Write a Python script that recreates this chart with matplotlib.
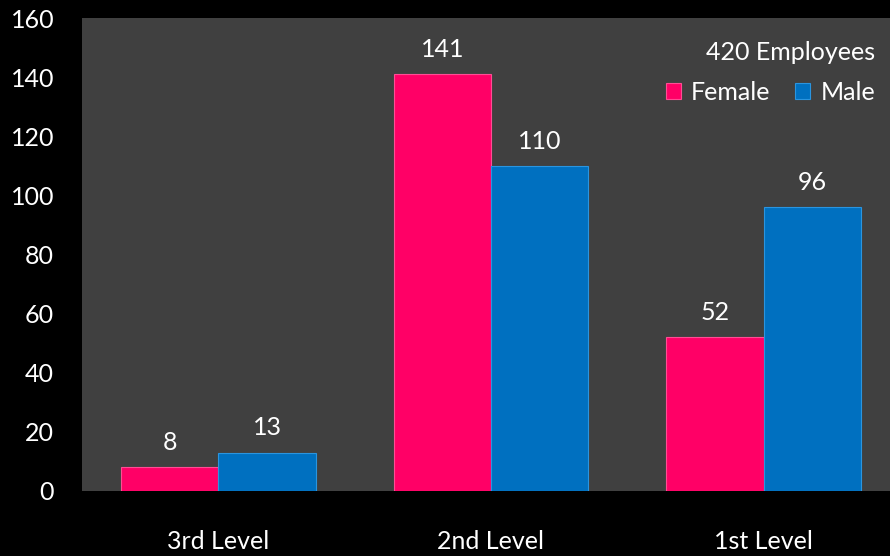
import numpy as np
import matplotlib
matplotlib.use("Agg")
import matplotlib.pyplot as plt

# data
levels = ['3rd Level', '2nd Level', '1st Level']
female = [8, 141, 52]
male = [13, 110, 96]
legend_title = '420 Employees'

pink = '#FF0066'
blue = '#0070C0'

plt.rcParams['font.family'] = ['Lato', 'DejaVu Sans']

fig = plt.figure(figsize=(8.9, 5.56), dpi=100, facecolor='black')
ax = fig.add_axes([82 / 890, 65 / 556, 818 / 890, 473 / 556])
ax.set_facecolor('#404040')

x = np.arange(len(levels))
w = 0.357
b1 = ax.bar(x - w / 2, female, w, color=pink, label='Female', edgecolor='#FF4D94', linewidth=0.8)
b2 = ax.bar(x + w / 2, male, w, color=blue, label='Male', edgecolor='#2A95E0', linewidth=0.8)

# value labels
for bars, vals in [(b1, female), (b2, male)]:
    for r, v in zip(bars, vals):
        ax.text(r.get_x() + r.get_width() / 2, v + 4.5, str(v), ha='center', va='bottom',
                color='white', fontsize=18)

ax.set_xlim(-0.5, 2.5)
ax.set_ylim(0, 160)
ax.set_yticks(range(0, 161, 20))
ax.set_xticks(x)
ax.set_xticklabels(levels)
ax.tick_params(axis='both', colors='white', labelsize=18, length=0)
ax.tick_params(axis='x', pad=28)
ax.tick_params(axis='y', pad=20)
for s in ax.spines.values():
    s.set_visible(False)

leg = ax.legend(title=legend_title, ncol=2, loc='upper right', bbox_to_anchor=(0.997, 1.0),
                frameon=False, fontsize=18, title_fontsize=18, handlelength=0.6,
                handleheight=0.6, handletextpad=0.4, columnspacing=1.0, labelspacing=0.7,
                labelcolor='white')
leg.get_title().set_color('white')
leg._legend_box.align = 'right'

fig.savefig('out.png', dpi=100, facecolor='black')
